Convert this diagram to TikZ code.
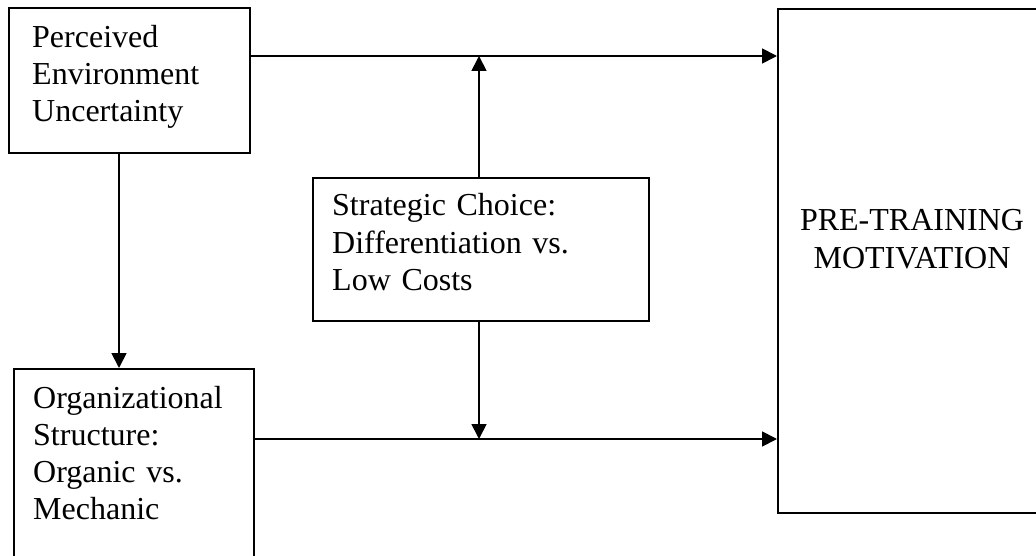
\documentclass[tikz,border=0pt]{standalone}
\usepackage{fontspec}
\setmainfont{Liberation Serif}
\usetikzlibrary{arrows.meta}
\begin{document}
\begin{tikzpicture}[x=1pt,y=-1pt,
  box/.style={draw=black, line width=1.8pt, rectangle, inner sep=0pt, anchor=north west},
  lbl/.style={inner sep=0pt, anchor=base west, align=left, font=\fontsize{32}{37}\selectfont},
  bigl/.style={inner sep=0pt, anchor=base, align=center, text width=262pt, font=\fontsize{32}{37}\selectfont},
  arr/.style={line width=1.8pt, -{Triangle[length=15pt,width=15pt]}}
]
\useasboundingbox (0,0) rectangle (1036,556);
\clip (0,0) rectangle (1036,556);
% boxes
\node[box, minimum width=241pt, minimum height=145pt] (pe) at (8,7) {};
\node[box, minimum width=240pt, minimum height=220pt] (os) at (13,368) {};
\node[box, minimum width=336pt, minimum height=143pt] (sc) at (312,177) {};
\node[box, minimum width=270pt, minimum height=504pt] (pm) at (777,8) {};
% texts
\node[lbl, text width=215pt] (tpe) at (32,48) {Perceived\\Environment\\Uncertainty};
\node[lbl, text width=215pt] (tos) at (33,408) {Organizational\\Structure:\\Organic vs.\\Mechanic};
\node[lbl, text width=300pt] (tsc) at (332,216) {Strategic Choice:\\Differentiation vs.\\Low Costs};
\node[bigl] (tpm) at (912,231) {PRE-TRAINING\\MOTIVATION};
% junction coordinates
\coordinate (jt) at (479,56);
\coordinate (jb) at (479,439);
% connectors
\draw[arr] (pe.east |- jt) -- (pm.west |- jt);
\draw[arr] (os.east |- jb) -- (pm.west |- jb);
\draw[arr] (sc.north -| jt) -- (jt);
\draw[arr] (sc.south -| jb) -- (jb);
\draw[arr] (pe.south -| 119,0) -- (os.north -| 119,0);
\end{tikzpicture}
\end{document}
